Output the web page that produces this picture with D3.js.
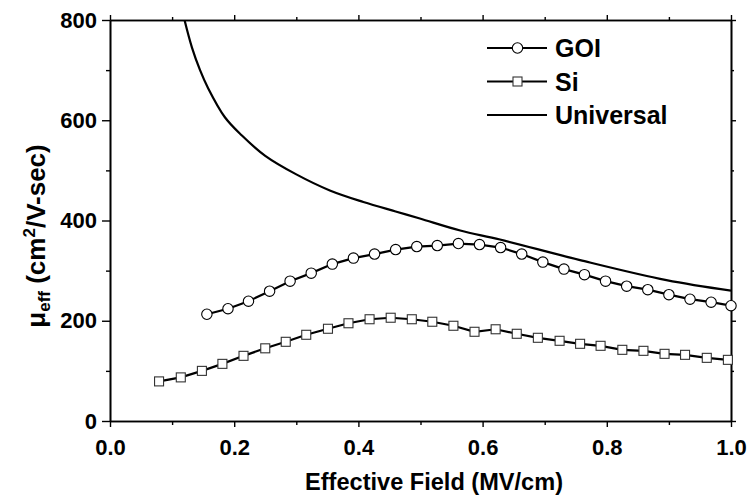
<!DOCTYPE html>
<html>
<head>
<meta charset="utf-8">
<script src="https://cdn.jsdelivr.net/npm/d3@7"></script>
<style>
  body { margin: 0; background: #fff; }
  text { font-family: "Liberation Sans", Arial, sans-serif; font-weight: bold; }
</style>
</head>
<body>
<div id="chart"></div>
<script>
// effective field (MV/cm) and mobility (cm2/V-sec)
var goiX = [0.156, 0.190, 0.223, 0.257, 0.290, 0.324, 0.358, 0.392, 0.426, 0.460, 0.494, 0.527, 0.561,
  0.595, 0.629, 0.663, 0.697, 0.731, 0.764, 0.798, 0.832, 0.866, 0.900, 0.934, 0.968, 1.000];
var goiY = [213, 224, 239, 259, 279, 295, 313, 325, 333, 342, 348, 350, 354,
  352, 346, 333, 317, 303, 292, 279, 269, 262, 252, 243, 237, 230];

var siX = [0.079, 0.114, 0.148, 0.181, 0.215, 0.250, 0.283, 0.316, 0.351, 0.384, 0.418, 0.452, 0.486, 0.519,
  0.553, 0.587, 0.621, 0.655, 0.689, 0.724, 0.757, 0.790, 0.825, 0.859, 0.893, 0.926, 0.961, 0.995];
var siY = [79, 87, 100, 114, 130, 145, 158, 172, 184, 195, 203, 206, 203, 198,
  190, 178, 183, 174, 166, 160, 154, 150, 142, 140, 134, 132, 126, 122];

var uniX = [0.120, 0.132, 0.145, 0.158, 0.185, 0.212, 0.250, 0.300, 0.354, 0.408, 0.460, 0.499, 0.564, 0.628, 0.757, 0.896, 1.000];
var uniY = [800, 745, 700, 664, 606, 570, 529, 492, 460, 437, 418, 404, 380, 362, 321, 281, 260];

var xTicks = [0, 0.2, 0.4, 0.6, 0.8, 1.0];
var yTicks = [0, 200, 400, 600, 800];

var legendNames = ["GOI", "Si", "Universal"];

var width = 753, height = 502;
var mLeft = 110, mRight = 731, mTop = 20, mBottom = 421;

var x = d3.scaleLinear().domain([0, 1]).range([mLeft, mRight]);
var y = d3.scaleLinear().domain([0, 800]).range([mBottom, mTop]);

var svg = d3.select("#chart").append("svg")
  .attr("width", width)
  .attr("height", height);

svg.append("clipPath").attr("id", "plot")
  .append("rect").attr("x", mLeft).attr("y", mTop)
  .attr("width", mRight - mLeft).attr("height", mBottom - mTop);

function zip(xs, ys) {
  return xs.map(function (d, i) { return [d, ys[i]]; });
}

// axes: labelled bottom/left, mirrored top/right
function styleAxis(g) {
  g.selectAll("path").attr("stroke", "#000").attr("stroke-width", 1.6);
  g.selectAll("line").attr("stroke", "#000").attr("stroke-width", 1.4);
  g.selectAll("text").attr("font-size", 22).attr("fill", "#000");
}

var minorX = d3.range(0.1, 1, 0.2);
var minorY = d3.range(100, 800, 200);

svg.append("g").attr("transform", "translate(0," + mBottom + ")")
  .call(d3.axisBottom(x).tickValues(minorX).tickSize(4).tickFormat("").tickSizeOuter(0)).call(styleAxis);
svg.append("g").attr("transform", "translate(0," + mBottom + ")")
  .call(d3.axisBottom(x).tickValues(xTicks).tickSize(6).tickPadding(12).tickFormat(d3.format(".1f")).tickSizeOuter(0))
  .call(styleAxis);
svg.append("g").attr("transform", "translate(0," + mTop + ")")
  .call(d3.axisTop(x).tickValues(minorX).tickSize(3).tickFormat("").tickSizeOuter(0)).call(styleAxis);
svg.append("g").attr("transform", "translate(0," + mTop + ")")
  .call(d3.axisTop(x).tickValues(xTicks).tickSize(5).tickFormat("").tickSizeOuter(0)).call(styleAxis);

svg.append("g").attr("transform", "translate(" + mLeft + ",0)")
  .call(d3.axisLeft(y).tickValues(minorY).tickSize(4).tickFormat("").tickSizeOuter(0)).call(styleAxis);
svg.append("g").attr("transform", "translate(" + mLeft + ",0)")
  .call(d3.axisLeft(y).tickValues(yTicks).tickSize(8).tickPadding(5).tickFormat(d3.format("d")).tickSizeOuter(0))
  .call(styleAxis);
svg.append("g").attr("transform", "translate(" + mRight + ",0)")
  .call(d3.axisRight(y).tickValues(minorY).tickSize(3).tickFormat("").tickSizeOuter(0)).call(styleAxis);
svg.append("g").attr("transform", "translate(" + mRight + ",0)")
  .call(d3.axisRight(y).tickValues(yTicks).tickSize(5).tickFormat("").tickSizeOuter(0)).call(styleAxis);

var line = d3.line()
  .x(function (d) { return x(d[0]); })
  .y(function (d) { return y(d[1]); });

var plot = svg.append("g").attr("clip-path", "url(#plot)");

plot.append("path")
  .datum(zip(uniX, uniY))
  .attr("fill", "none").attr("stroke", "#000").attr("stroke-width", 2.2)
  .attr("d", line.curve(d3.curveCatmullRom.alpha(0.5)));

line.curve(d3.curveLinear);

plot.append("path")
  .datum(zip(goiX, goiY))
  .attr("fill", "none").attr("stroke", "#000").attr("stroke-width", 2.2)
  .attr("d", line);

plot.append("path")
  .datum(zip(siX, siY))
  .attr("fill", "none").attr("stroke", "#000").attr("stroke-width", 2.2)
  .attr("d", line);

svg.append("g").selectAll("circle")
  .data(zip(goiX, goiY))
  .enter().append("circle")
  .attr("cx", function (d) { return x(d[0]); })
  .attr("cy", function (d) { return y(d[1]); })
  .attr("r", 5.2)
  .attr("fill", "#fff").attr("stroke", "#000").attr("stroke-width", 1.1);

svg.append("g").selectAll("rect")
  .data(zip(siX, siY))
  .enter().append("rect")
  .attr("x", function (d) { return x(d[0]) - 4.5; })
  .attr("y", function (d) { return y(d[1]) - 4.5; })
  .attr("width", 9).attr("height", 9)
  .attr("fill", "#fff").attr("stroke", "#333").attr("stroke-width", 1.1);

// legend
var legend = svg.append("g");
legendNames.forEach(function (name, i) {
  var ly = 48 + i * 33.5;
  legend.append("line")
    .attr("x1", 487).attr("x2", 547).attr("y1", ly).attr("y2", ly)
    .attr("stroke", "#000").attr("stroke-width", 2);
  if (i === 0) {
    legend.append("circle").attr("cx", 517.5).attr("cy", ly).attr("r", 5.2)
      .attr("fill", "#fff").attr("stroke", "#000").attr("stroke-width", 1.1);
  } else if (i === 1) {
    legend.append("rect").attr("x", 513).attr("y", ly - 4.5).attr("width", 9).attr("height", 9)
      .attr("fill", "#fff").attr("stroke", "#333").attr("stroke-width", 1.1);
  }
  legend.append("text")
    .attr("x", 555).attr("y", ly).attr("dy", "0.36em")
    .attr("font-size", 25)
    .text(name);
});

// axis titles
svg.append("text")
  .attr("x", 434).attr("y", 490)
  .attr("text-anchor", "middle")
  .attr("font-size", 23)
  .attr("textLength", 258).attr("lengthAdjust", "spacingAndGlyphs")
  .text("Effective Field (MV/cm)");

var yTitle = svg.append("text")
  .attr("transform", "translate(45,236) rotate(-90)")
  .attr("text-anchor", "middle")
  .attr("font-size", 26);
yTitle.append("tspan").text("\u03bc");
yTitle.append("tspan").attr("font-size", 17).attr("dy", 5).text("eff");
yTitle.append("tspan").attr("dy", -5).text(" (cm");
yTitle.append("tspan").attr("font-size", 17).attr("dy", -10).text("2");
yTitle.append("tspan").attr("dy", 10).text("/V-sec)");
</script>
</body>
</html>
